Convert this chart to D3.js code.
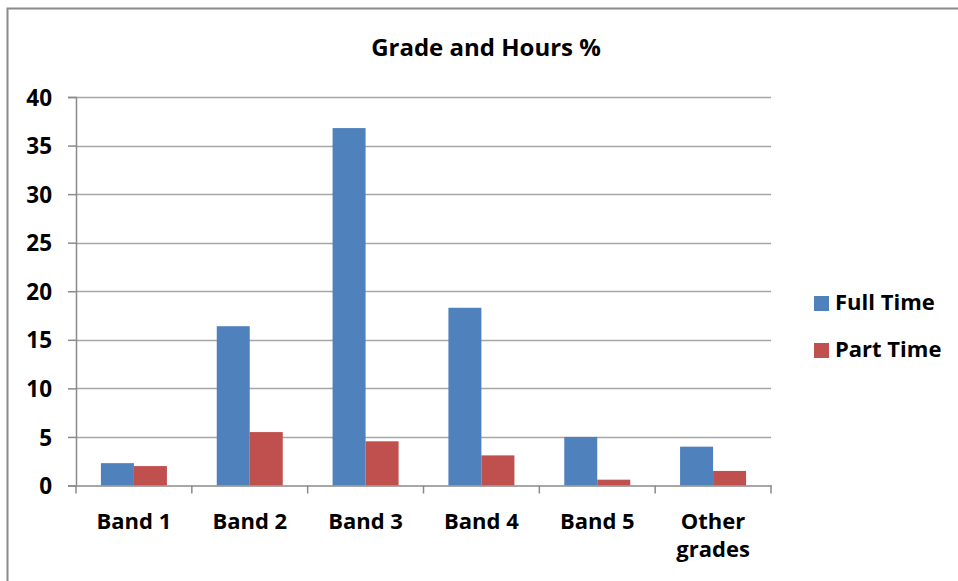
<!DOCTYPE html>
<html><head><meta charset="utf-8">
<script src="https://cdn.jsdelivr.net/npm/d3@7"></script>
<style>body{margin:0;background:#fff}svg{display:block}text{font-family:"Open Sans",sans-serif;font-weight:700;fill:#000}</style>
</head><body><svg id="c" width="958" height="581"></svg>
<script>
const categories = ["Band 1","Band 2","Band 3","Band 4","Band 5","Other grades"];
const seriesNames = ["Full Time","Part Time"];
const fullTime = [2.3, 16.4, 36.8, 18.3, 5.0, 4.0];
const partTime = [2.0, 5.5, 4.55, 3.1, 0.6, 1.5];
const yTicks = [0,5,10,15,20,25,30,35,40];
const colors = ["#4F81BD","#C0504D"];

const svg = d3.select("#c");
const L = 76, R = 771, T = 97, B = 485.5;
// outer border
svg.append("rect").attr("x",7.5).attr("y",8.5).attr("width",1000).attr("height",1000)
  .attr("fill","none").attr("stroke","#8a8a8a").attr("stroke-width",2);

const x = d3.scaleBand().domain(categories).range([L,R]).paddingInner(0).paddingOuter(0);
const y = d3.scaleLinear().domain([0,40]).range([B,T]);
const xs = d3.scaleBand().domain(seriesNames).range([0,x.bandwidth()]).paddingInner(0).paddingOuter(0.755);

// gridlines
svg.append("g").selectAll("line").data(yTicks.filter(d=>d>0)).join("line")
  .attr("x1",L).attr("x2",R).attr("y1",d=>Math.round(y(d))+0.5).attr("y2",d=>Math.round(y(d))+0.5)
  .attr("stroke","#a6a6a6").attr("stroke-width",1.5);

// bars
const data = [fullTime, partTime];
seriesNames.forEach((s,i)=>{
  svg.append("g").selectAll("rect").data(categories).join("rect")
    .attr("x",c=>x(c)+xs(s)).attr("width",xs.bandwidth())
    .attr("y",(c,j)=>y(data[i][j])).attr("height",(c,j)=>B-y(data[i][j]))
    .attr("fill",colors[i]);
});

// y axis
const ya = svg.append("g").attr("transform",`translate(${L},0)`)
  .call(d3.axisLeft(y).tickValues(yTicks).tickSize(8).tickPadding(16));
ya.select(".domain").attr("stroke","#8a8a8a").attr("stroke-width",1.5);
ya.selectAll(".tick line").attr("stroke","#8a8a8a").attr("stroke-width",1.5);
ya.selectAll("text").style("font-size","22.5px").attr("dy","0.36em");

// x axis
const xa = svg.append("g").attr("transform",`translate(0,${B})`)
  .call(d3.axisBottom(x).tickSize(0).tickFormat(""));
xa.select(".domain").attr("stroke","#8a8a8a").attr("stroke-width",1.5);
const bounds = categories.map(c=>x(c)).concat([R]);
svg.append("g").selectAll("line").data(bounds).join("line")
  .attr("x1",d=>d).attr("x2",d=>d).attr("y1",B).attr("y2",B+8)
  .attr("stroke","#8a8a8a").attr("stroke-width",1.5);
svg.append("g").selectAll("text").data(categories).join("text")
  .attr("text-anchor","middle").style("font-size","22px")
  .attr("x",c=>x(c)+x.bandwidth()/2)
  .each(function(c){
    const words = c === "Other grades" ? ["Other","grades"] : [c];
    d3.select(this).selectAll("tspan").data(words).join("tspan")
      .attr("x",x(c)+x.bandwidth()/2).attr("y",(w,k)=>529+k*28).text(w=>w);
  });

// title
svg.append("text").attr("x",486).attr("y",56).attr("text-anchor","middle")
  .style("font-size","24px").text("Grade and Hours %");

// legend
const lg = svg.append("g");
seriesNames.forEach((s,i)=>{
  lg.append("rect").attr("x",814).attr("y",296+i*47).attr("width",15).attr("height",15).attr("fill",colors[i]);
  lg.append("text").attr("x",835).attr("y",310+i*47).style("font-size","22px").text(s);
});
</script></body></html>
